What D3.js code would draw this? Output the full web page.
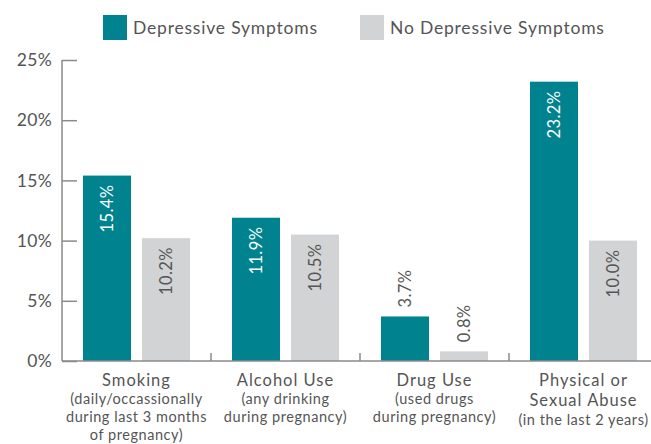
<!DOCTYPE html>
<html>
<head>
<meta charset="utf-8">
<script src="https://cdn.jsdelivr.net/npm/d3@7"></script>
<style>
  html, body { margin: 0; padding: 0; background: #fff; }
  svg { display: block; font-family: Lato, "Open Sans", sans-serif; }
</style>
</head>
<body>
<svg id="chart" width="651" height="444"></svg>
<script>
// Categories: main title lines and sub-title lines
const categories = ["Smoking", "Alcohol Use", "Drug Use", "Physical or Sexual Abuse"];
const categoryTitle = [["Smoking"], ["Alcohol Use"], ["Drug Use"], ["Physical or", "Sexual Abuse"]];
const categoryNote = [
  ["(daily/occassionally", "during last 3 months", "of pregnancy)"],
  ["(any drinking", "during pregnancy)"],
  ["(used drugs", "during pregnancy)"],
  ["(in the last 2 years)"]
];
const seriesNames = ["Depressive Symptoms", "No Depressive Symptoms"];
const depressive = [15.4, 11.9, 3.7, 23.2];
const noDepressive = [10.2, 10.5, 0.8, 10.0];
const yTicks = [0, 5, 10, 15, 20, 25];

const colors = ["#00838f", "#d1d3d4"];
const textColor = "#555";
const axisColor = "#8a8a8a";

const svg = d3.select("#chart");
const plotLeft = 62, plotBottom = 361, plotTop = 60;
const groupStep = 149;

const y = d3.scaleLinear().domain([0, 25]).range([plotBottom, plotTop]);
const x0 = d3.scaleBand().domain(categories)
  .range([plotLeft, plotLeft + groupStep * categories.length]).paddingInner(0).paddingOuter(0);
const x1 = d3.scaleBand().domain(seriesNames)
  .range([0, x0.bandwidth()]).paddingInner(11 / 59).paddingOuter(0.356);

// Y axis: ticks pointing inward
const yAxis = d3.axisRight(y).tickValues(yTicks).tickSize(15).tickFormat("");
const gy = svg.append("g").attr("transform", `translate(${plotLeft},0)`).call(yAxis);
gy.select(".domain").remove();
gy.selectAll(".tick line").attr("stroke", axisColor).attr("stroke-width", 1.5);
svg.append("line").attr("x1", plotLeft).attr("x2", plotLeft).attr("y1", plotTop).attr("y2", plotBottom)
  .attr("stroke", axisColor).attr("stroke-width", 1.5);

// Y tick labels
svg.append("g").selectAll("text").data(yTicks).join("text")
  .attr("x", plotLeft - 10).attr("y", d => y(d)).attr("dy", "0.35em")
  .attr("text-anchor", "end").attr("font-size", 17.5).attr("letter-spacing", 0.3)
  .attr("fill", textColor)
  .text(d => d + "%");

// Bars
const groups = svg.append("g").selectAll("g").data(categories).join("g")
  .attr("transform", d => `translate(${x0(d)},0)`);

const rows = categories.map((c, i) => [
  { key: seriesNames[0], value: depressive[i], ci: 0 },
  { key: seriesNames[1], value: noDepressive[i], ci: 1 }
]);

groups.selectAll("rect").data((d, i) => rows[i]).join("rect")
  .attr("x", d => x1(d.key)).attr("width", x1.bandwidth())
  .attr("y", d => y(d.value)).attr("height", d => plotBottom - y(d.value))
  .attr("fill", d => colors[d.ci]);

// Value labels, rotated; inside the bar when it is tall enough
groups.selectAll("text.val").data((d, i) => rows[i]).join("text")
  .attr("class", "val")
  .each(function (d) {
    const inside = d.value >= 5;
    const cx = x1(d.key) + x1.bandwidth() / 2;
    const yy = inside ? y(d.value) + 9 : y(d.value) - 9;
    d3.select(this)
      .attr("transform", `translate(${cx},${yy}) rotate(-90)`)
      .attr("text-anchor", inside ? "end" : "start")
      .attr("dy", "0.35em")
      .attr("font-size", 16.5)
      .attr("letter-spacing", 0.4)
      .attr("fill", inside && d.ci === 0 ? "#fff" : textColor)
      .text(d.value.toFixed(1) + "%");
  });

// X axis baseline and group separators
svg.append("line").attr("x1", plotLeft).attr("x2", 651).attr("y1", plotBottom).attr("y2", plotBottom)
  .attr("stroke", axisColor).attr("stroke-width", 1.5);
svg.append("g").selectAll("line").data(categories.slice(1)).join("line")
  .attr("x1", d => x0(d)).attr("x2", d => x0(d))
  .attr("y1", plotBottom).attr("y2", plotBottom - 8)
  .attr("stroke", axisColor).attr("stroke-width", 1.5);

// Category labels
groups.each(function (c, i) {
  const g = d3.select(this);
  const cx = x0.bandwidth() / 2;
  const titles = categoryTitle[i];
  titles.forEach((t, k) => {
    g.append("text").attr("x", cx).attr("y", 386 + k * 20)
      .attr("text-anchor", "middle").attr("font-size", 16.5).attr("letter-spacing", 1)
      .attr("fill", textColor).text(t);
  });
  const noteStart = titles.length > 1 ? 425 : 404;
  categoryNote[i].forEach((t, k) => {
    g.append("text").attr("x", cx).attr("y", noteStart + k * 18)
      .attr("text-anchor", "middle").attr("font-size", 14.5).attr("letter-spacing", 0.55)
      .attr("fill", textColor).text(t);
  });
});

// Legend
const legendX = [103, 360];
const legend = svg.append("g").selectAll("g").data(seriesNames).join("g")
  .attr("transform", (d, i) => `translate(${legendX[i]},15)`);
legend.append("rect").attr("width", 24).attr("height", 25).attr("fill", (d, i) => colors[i]);
legend.append("text").attr("x", 30).attr("y", 19)
  .attr("font-size", 17.5).attr("letter-spacing", 0.8)
  .attr("fill", textColor).text(d => d);
</script>
</body>
</html>
